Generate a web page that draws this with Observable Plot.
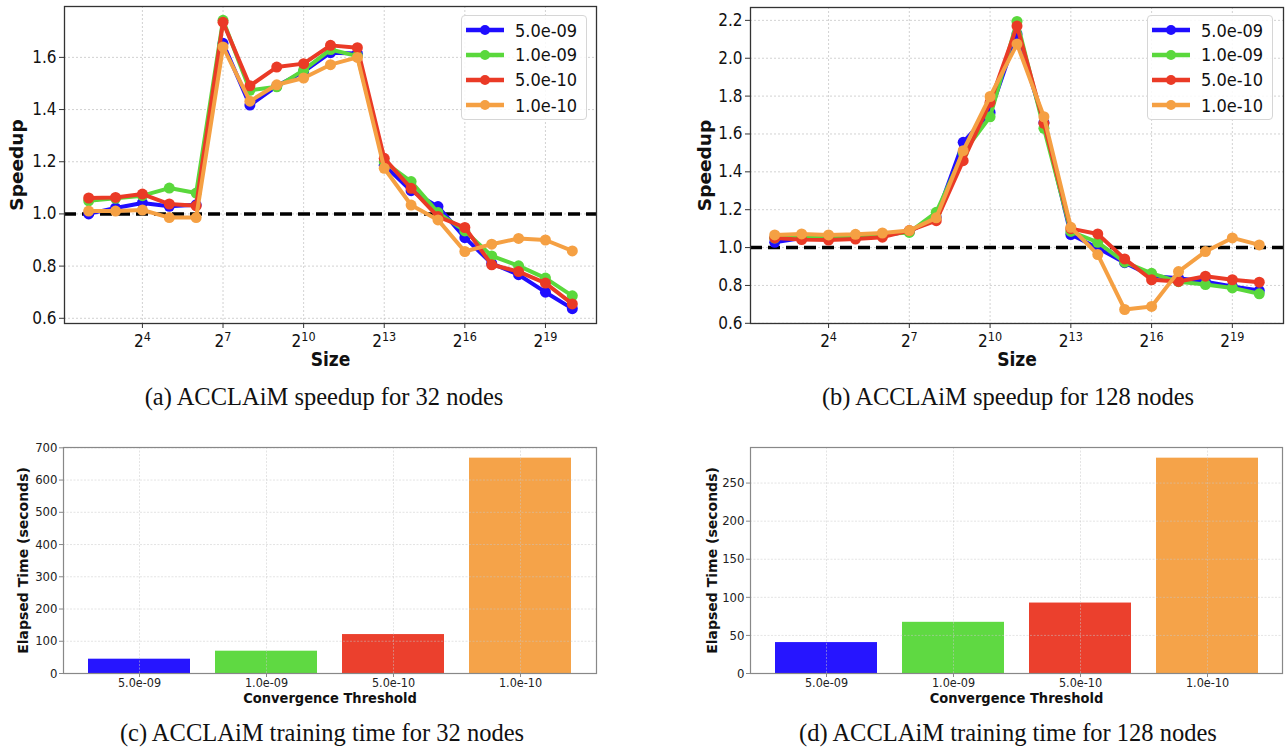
<!DOCTYPE html>
<html>
<head>
<meta charset="utf-8">
<script src="https://cdn.jsdelivr.net/npm/d3@7"></script>
<script src="https://cdn.jsdelivr.net/npm/@observablehq/plot@0.6"></script>
<style>
  html, body { margin: 0; padding: 0; background: #fff; }
  #fig { position: relative; width: 1285px; height: 749px; overflow: hidden; }
  .panel { position: absolute; }
  .caption { position: absolute; font-family: "Liberation Serif", "Times New Roman", serif; font-size: 24.5px; color: #111; white-space: nowrap; transform: translate(-50%, -50%); }
  .legend { position: absolute; width: 126px; height: 105px; box-sizing: border-box; border: 1px solid #d6d6d6; border-radius: 4px; background: rgba(255,255,255,0.85); font-family: "DejaVu Sans Condensed", "DejaVu Sans", sans-serif; font-stretch: condensed; font-size: 18px; color: #111; }
  .legend .row { position: absolute; left: 0; height: 22px; display: flex; align-items: center; }
  .legend svg { margin-left: 4px; margin-right: 11px; }
  svg text { font-family: "DejaVu Sans Condensed", "DejaVu Sans", sans-serif; font-stretch: condensed; }
  svg text.vlabel, svg g.vlabel text { font-family: "DejaVu Sans", sans-serif; font-stretch: normal; }
</style>
</head>
<body>
<div id="fig"></div>
<script>
// ---------------- data ----------------
const sizes = [4, 8, 16, 32, 64, 128, 256, 512, 1024, 2048, 4096, 8192, 16384, 32768, 65536, 131072, 262144, 524288, 1048576];
const thresholds = ["5.0e-09", "1.0e-09", "5.0e-10", "1.0e-10"];
const colors = ["#1f0dff", "#5ad83c", "#ea3a26", "#f5a043"];
const sizeTicks = [16, 128, 1024, 8192, 65536, 524288];

// (a) speedup, 32 nodes
const sp32_5e09 = [1.000, 1.023, 1.042, 1.029, 1.035, 1.654, 1.417, 1.490, 1.545, 1.618, 1.615, 1.187, 1.089, 1.028, 0.909, 0.810, 0.767, 0.700, 0.637];
const sp32_1e09 = [1.050, 1.060, 1.070, 1.099, 1.080, 1.742, 1.474, 1.487, 1.551, 1.630, 1.605, 1.200, 1.124, 1.005, 0.935, 0.839, 0.801, 0.754, 0.686];
const sp32_5e10 = [1.061, 1.063, 1.076, 1.038, 1.031, 1.735, 1.491, 1.563, 1.576, 1.646, 1.637, 1.213, 1.098, 0.990, 0.948, 0.805, 0.779, 0.735, 0.655];
const sp32_1e10 = [1.011, 1.011, 1.015, 0.986, 0.986, 1.640, 1.432, 1.495, 1.521, 1.572, 1.600, 1.175, 1.034, 0.977, 0.856, 0.884, 0.906, 0.900, 0.858];

// (b) speedup, 128 nodes
const sp128_5e09 = [1.028, 1.050, 1.050, 1.050, 1.065, 1.085, 1.160, 1.556, 1.714, 2.128, 1.660, 1.069, 0.998, 0.920, 0.850, 0.838, 0.820, 0.795, 0.773];
const sp128_1e09 = [1.050, 1.060, 1.060, 1.060, 1.070, 1.080, 1.186, 1.500, 1.691, 2.194, 1.630, 1.085, 1.028, 0.923, 0.864, 0.820, 0.805, 0.787, 0.756];
const sp128_5e10 = [1.051, 1.042, 1.040, 1.045, 1.055, 1.090, 1.142, 1.459, 1.767, 2.170, 1.656, 1.100, 1.072, 0.940, 0.830, 0.821, 0.849, 0.830, 0.817];
const sp128_1e10 = [1.067, 1.072, 1.067, 1.070, 1.077, 1.090, 1.157, 1.512, 1.798, 2.075, 1.691, 1.107, 0.963, 0.673, 0.689, 0.873, 0.979, 1.051, 1.014];

// (c),(d) training time
const time32 = [44.4, 69.2, 120.8, 668];
const time128 = [40.6, 67.2, 92.5, 282.7];

const speedTicks32 = [0.6, 0.8, 1.0, 1.2, 1.4, 1.6];
const speedTicks128 = [0.6, 0.8, 1.0, 1.2, 1.4, 1.6, 1.8, 2.0, 2.2];
const timeTicks32 = [0, 100, 200, 300, 400, 500, 600, 700];
const timeTicks128 = [0, 50, 100, 150, 200, 250];

const captions = [
  "(a) ACCLAiM speedup for 32 nodes",
  "(b) ACCLAiM speedup for 128 nodes",
  "(c) ACCLAiM training time for 32 nodes",
  "(d) ACCLAiM training time for 128 nodes"
];

// ---------------- helpers ----------------
const pow2 = d => "2^" + Math.round(Math.log2(d));
const fig = document.getElementById("fig");

function place(node, left, top) {
  const div = document.createElement("div");
  div.className = "panel";
  div.style.left = left + "px";
  div.style.top = top + "px";
  div.appendChild(node);
  fig.appendChild(div);
}

// turn "2^10" tick labels into 2 with a raised exponent
function superscriptTicks(svg) {
  svg.querySelectorAll('g[aria-label="x-axis tick label"] text').forEach(t => {
    const s = t.textContent;
    if (!s.includes("^")) return;
    const [b, e] = s.split("^");
    t.textContent = "";
    const ns = "http://www.w3.org/2000/svg";
    const tb = document.createElementNS(ns, "tspan");
    tb.textContent = b;
    const te = document.createElementNS(ns, "tspan");
    te.textContent = e;
    te.setAttribute("dy", "-0.45em");
    te.setAttribute("font-size", "12.5px");
    t.appendChild(tb);
    t.appendChild(te);
  });
  return svg;
}

function speedupPlot(series, o) {
  const gridStyle = {stroke: "#b8b8b8", strokeOpacity: 0.8, strokeDasharray: "2,2", strokeWidth: 0.8};
  const marks = [
    Plot.gridX(sizeTicks, gridStyle),
    Plot.gridY(o.yTicks, gridStyle),
    Plot.ruleY([1], {stroke: "black", strokeWidth: 3.5, strokeDasharray: "12,6"})
  ];
  series.forEach((vals, i) => {
    const data = sizes.map((s, j) => ({size: s, v: vals[j]}));
    marks.push(Plot.line(data, {x: "size", y: "v", stroke: colors[i], strokeWidth: 4}));
    marks.push(Plot.dot(data, {x: "size", y: "v", fill: colors[i], r: 5.5}));
  });
  marks.push(
    Plot.frame({stroke: "#333", strokeWidth: 1.3}),
    Plot.axisX(sizeTicks, {tickFormat: pow2, tickSize: 5, tickPadding: 6, fontSize: 17, label: null, stroke: "#333"}),
    Plot.axisY(o.yTicks, {tickFormat: d3.format(".1f"), tickSize: 5, tickPadding: 3, fontSize: 17, label: null, stroke: "#333"}),
    Plot.text(["Size"], {text: d => d, frameAnchor: "bottom", dy: 36, lineAnchor: "middle", textAnchor: "middle", fontSize: 19, fontWeight: "bold", fill: "#111"}),
    Plot.text(["Speedup"], {text: d => d, frameAnchor: "left", dx: o.ylabelDx, rotate: -90, lineAnchor: "middle", textAnchor: "middle", fontSize: 18.5, fontWeight: "bold", fill: "#111", className: "vlabel"})
  );
  const svg = Plot.plot({
    width: o.width, height: o.height,
    marginLeft: o.ml, marginRight: o.mr, marginTop: o.mt, marginBottom: o.mb,
    style: {background: "transparent", color: "#111", overflow: "visible"},
    x: {type: "log", base: 2, domain: o.xDomain},
    y: {domain: o.yDomain},
    marks
  });
  return superscriptTicks(svg);
}

function timePlot(values, o) {
  const data = thresholds.map((t, i) => ({threshold: t, time: values[i]}));
  const gridStyle = {stroke: "#c8c8c8", strokeOpacity: 0.7, strokeDasharray: "2,1.5", strokeWidth: 0.7};
  return Plot.plot({
    width: o.width, height: o.height,
    marginLeft: o.ml, marginRight: o.mr, marginTop: o.mt, marginBottom: o.mb,
    style: {background: "transparent", color: "#222", overflow: "visible"},
    x: {type: "band", domain: thresholds, paddingInner: 0.2, paddingOuter: 0.19, align: 0.5},
    y: {domain: o.yDomain},
    color: {domain: thresholds, range: colors},
    marks: [
      Plot.barY(data, {x: "threshold", y: "time", fill: "threshold", fillOpacity: 0.97}),
      Plot.gridX(thresholds, gridStyle),
      Plot.gridY(o.yTicks, gridStyle),
      Plot.frame({stroke: "#888", strokeWidth: 1.2}),
      Plot.axisX(thresholds, {tickSize: 4, tickPadding: 1, fontSize: 12.5, label: null, stroke: "#888"}),
      Plot.axisY(o.yTicks, {tickSize: 4, tickPadding: 2, fontSize: 13, label: null, stroke: "#888"}),
      Plot.text(["Convergence Threshold"], {text: d => d, frameAnchor: "bottom", dy: 25, lineAnchor: "middle", textAnchor: "middle", fontSize: 14.5, fontWeight: "bold", fill: "#111"}),
      Plot.text(["Elapsed Time (seconds)"], {text: d => d, frameAnchor: "left", dx: o.ylabelDx, rotate: -90, lineAnchor: "middle", textAnchor: "middle", fontSize: 14, fontWeight: "bold", fill: "#111", className: "vlabel"})
    ]
  });
}

function legend(left, top) {
  const box = document.createElement("div");
  box.className = "legend";
  box.style.left = left + "px";
  box.style.top = top + "px";
  const rowCenters = [14, 38.5, 63.5, 89];
  thresholds.forEach((t, i) => {
    const row = document.createElement("div");
    row.className = "row";
    row.style.top = (rowCenters[i] - 11) + "px";
    row.innerHTML = `<svg width="38" height="12"><line x1="0" y1="6" x2="38" y2="6" stroke="${colors[i]}" stroke-width="4.5"/><circle cx="19" cy="6" r="5" fill="${colors[i]}"/></svg><span>${t}</span>`;
    box.appendChild(row);
  });
  fig.appendChild(box);
}

function caption(text, cx, cy) {
  const d = document.createElement("div");
  d.className = "caption";
  d.style.left = cx + "px";
  d.style.top = cy + "px";
  d.textContent = text;
  fig.appendChild(d);
}

// ---------------- panels ----------------
const xDom = [Math.pow(2, 1.1), Math.pow(2, 20.9)];

place(speedupPlot([sp32_5e09, sp32_1e09, sp32_5e10, sp32_1e10], {
  width: 640, height: 380, ml: 64, mr: 44, mt: 6, mb: 57,
  xDomain: xDom, yDomain: [0.58, 1.795], yTicks: speedTicks32, ylabelDx: -47
}), 0, 0);

place(speedupPlot([sp128_5e09, sp128_1e09, sp128_5e10, sp128_1e10], {
  width: 605, height: 380, ml: 70, mr: 2, mt: 7, mb: 57,
  xDomain: xDom, yDomain: [0.599, 2.268], yTicks: speedTicks128, ylabelDx: -45
}), 680, 0);

place(timePlot(time32, {
  width: 640, height: 285, ml: 63, mr: 44, mt: 17, mb: 42,
  yDomain: [0, 701], yTicks: timeTicks32, ylabelDx: -40
}), 0, 430);

place(timePlot(time128, {
  width: 605, height: 285, ml: 70, mr: 3, mt: 17, mb: 42,
  yDomain: [0, 296.7], yTicks: timeTicks128, ylabelDx: -38
}), 680, 430);

legend(461, 15);
legend(1147, 15);

caption(captions[0], 324, 397);
caption(captions[1], 1008, 397);
caption(captions[2], 322, 733);
caption(captions[3], 1008, 733);
</script>
</body>
</html>
